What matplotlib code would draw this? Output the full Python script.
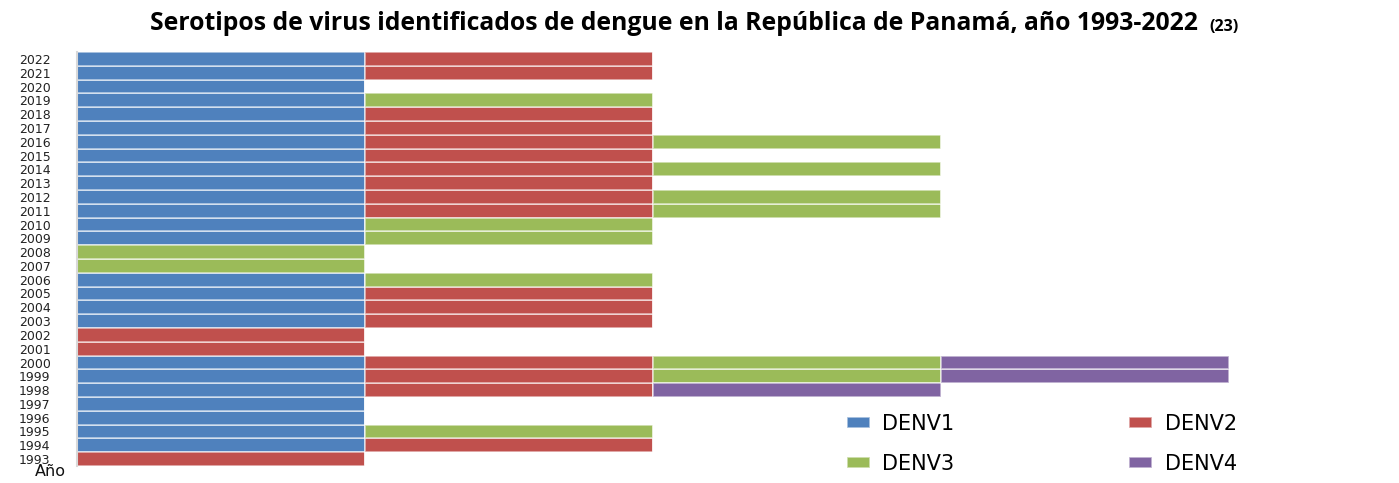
import numpy as np
import matplotlib
matplotlib.use("Agg")
import matplotlib.pyplot as plt

# ---------- data ----------
years = list(range(1993, 2023))
# presence of each serotype per year, 1993 -> 2022
denv1 = [0, 1, 1, 1, 1, 1, 1, 1, 0, 0, 1, 1, 1, 1, 0, 0, 1, 1, 1, 1, 1, 1, 1, 1, 1, 1, 1, 1, 1, 1]
denv2 = [1, 1, 0, 0, 0, 1, 1, 1, 1, 1, 1, 1, 1, 0, 0, 0, 0, 0, 1, 1, 1, 1, 1, 1, 1, 1, 0, 0, 1, 1]
denv3 = [0, 0, 1, 0, 0, 0, 1, 1, 0, 0, 0, 0, 0, 1, 1, 1, 1, 1, 1, 1, 0, 1, 0, 1, 0, 0, 1, 0, 0, 0]
denv4 = [0, 0, 0, 0, 0, 1, 1, 1, 0, 0, 0, 0, 0, 0, 0, 0, 0, 0, 0, 0, 0, 0, 0, 0, 0, 0, 0, 0, 0, 0]
series = [("DENV1", denv1, "#4F81BD"),
          ("DENV2", denv2, "#C0504D"),
          ("DENV3", denv3, "#9BBB59"),
          ("DENV4", denv4, "#8064A2")]

W, H = 1399, 483
fig = plt.figure(figsize=(W / 100, H / 100), dpi=100)
ax = fig.add_axes([77 / W, (H - 466) / H, (1373 - 77) / W, (466 - 52) / H])

y = np.arange(len(years))
left = np.zeros(len(years))
for name, vals, color in series:
    vals = np.array(vals, float)
    ax.barh(y, vals, left=left, height=1.0, color=color,
            edgecolor=(1, 1, 1, 0.6), linewidth=1.2, label=name)
    left += vals

ax.set_xlim(0, 4.5)
ax.set_ylim(-0.5, len(years) - 0.5)
ax.set_yticks(y)
ax.set_yticklabels([str(v) for v in years], fontsize=9, color="#222222")
ax.tick_params(axis="y", length=0, pad=19)
ax.set_xticks([])
for s in ["top", "right", "bottom"]:
    ax.spines[s].set_visible(False)
ax.spines["left"].set_color("#D9D9D9")
ax.spines["left"].set_linewidth(1.5)

fig.text(35 / W, 1 - 472 / H, "Año", fontsize=11.5, va="center", ha="left", color="#111111")

fig.text(150 / W, 1 - 23 / H,
         "Serotipos de virus identificados de dengue en la República de Panamá, año 1993-2022",
         fontsize=17.8, fontweight="bold", family="Open Sans", ha="left", va="center")
fig.text(1209 / W, 1 - 27 / H, "(23)", fontsize=11.5, fontweight="bold",
         family="Open Sans", ha="left", va="center")

handles, labels = ax.get_legend_handles_labels()
order = [0, 2, 1, 3]
fig.legend([handles[i] for i in order], [labels[i] for i in order], ncol=2,
           loc="center left", bbox_to_anchor=(828 / W, 1 - 444 / H),
           frameon=False, fontsize=15, handlelength=1.1, handleheight=0.45,
           columnspacing=8.4, labelspacing=0.95, handletextpad=0.6)

fig.savefig("out.png", dpi=100)
